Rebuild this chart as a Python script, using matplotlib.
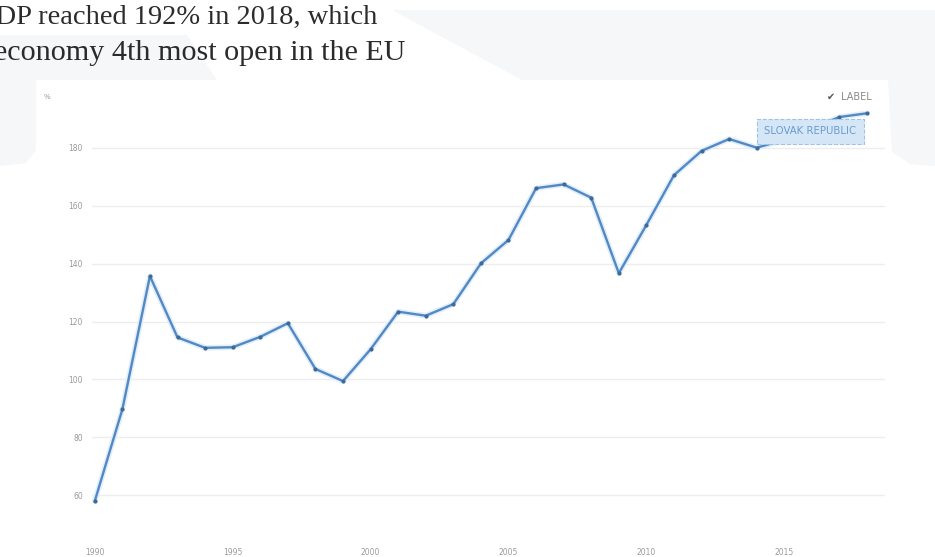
import matplotlib
matplotlib.use('Agg')
import matplotlib.pyplot as plt
from matplotlib.patches import Polygon

# Trade (% of GDP), Slovak Republic
years = list(range(1990, 2019))
trade = [57.9, 89.6, 135.7, 114.5, 110.9, 111.1, 114.7, 119.4, 103.6, 99.4,
         110.4, 123.4, 122.0, 126.0, 140.1, 148.2, 166.1, 167.4, 162.8, 136.7,
         153.4, 170.6, 179.0, 183.1, 180.1, 182.8, 186.9, 190.7, 192.0]
series_name = 'SLOVAK REPUBLIC'
y_ticks = [60, 80, 100, 120, 140, 160, 180]
x_ticks = [1990, 1995, 2000, 2005, 2010, 2015]
title_lines = ['GDP reached 192% in 2018, which',
               'economy 4th most open in the EU']

W, H = 935, 557


def px(x, y):
    # pixel position (from top-left) -> figure fraction
    return x / W, (H - y) / H


fig = plt.figure(figsize=(W / 100, H / 100), dpi=100)
fig.patch.set_facecolor('white')

# faint slide background shapes
bg = '#f6f7f9'
left_shape = [px(0, 35), px(187, 35), px(217, 80), px(36, 80),
              px(36, 150), px(26, 163), px(0, 166)]
right_shape = [px(392, 10), px(935, 10), px(935, 166), px(910, 164),
               px(892, 152), px(888, 80), px(522, 80)]
for pts in (left_shape, right_shape):
    fig.patches.append(Polygon(pts, closed=True, transform=fig.transFigure,
                               facecolor=bg, edgecolor='none', zorder=0))

# headline (runs off the left edge)
fig.text(*px(-25, 24), title_lines[0], family='Liberation Serif', fontsize=20.5,
         color='#2b2b2b', va='baseline', ha='left')
fig.text(*px(-6, 60), title_lines[1], family='Liberation Serif', fontsize=21.7,
         color='#2b2b2b', va='baseline', ha='left')

ax = fig.add_axes([px(92, 0)[0], px(0, 509.5)[1],
                   (885 - 92) / W, (509.5 - 104.6) / H])
ax.set_facecolor('none')

ax.plot(years, trade, color='#e2eefa', lw=4, solid_capstyle='round', zorder=2)
ax.plot(years, trade, color='#5289c4', lw=1.7, marker='o', ms=2.0,
        mfc='#3d6a98', mec='#3d6a98', zorder=3)

ax.set_xlim(1989.9, 2018.65)
ax.set_ylim(55, 195)
ax.set_yticks(y_ticks)
ax.set_xticks(x_ticks)
ax.tick_params(length=0, labelsize=5.5, labelcolor='#9a9a9a')
ax.tick_params(axis='y', pad=6.5)
ax.tick_params(axis='x', pad=28)
ax.grid(axis='y', color='#ededed', lw=1)
ax.set_axisbelow(True)
for s in ax.spines.values():
    s.set_visible(False)

# series label box
ax.text(years[-3] - 0.05, trade[-3] - 1.2, series_name, ha='center', va='center',
        fontsize=7.3, color='#6a9bd0', zorder=4,
        bbox=dict(boxstyle='square,pad=0.75', fc='#d5e7f7', ec='#9dc3e6',
                  ls='--', lw=0.8))

# unit and legend toggle
fig.text(*px(47, 97), '%', fontsize=5, color='#999999', ha='center', va='center')
fig.text(*px(831, 97), '\u2714', fontsize=7, color='#555555', ha='center', va='center')
fig.text(*px(841, 97), 'LABEL', fontsize=7, color='#8a8a8a', ha='left', va='center')

plt.savefig('out.png', dpi=100)
